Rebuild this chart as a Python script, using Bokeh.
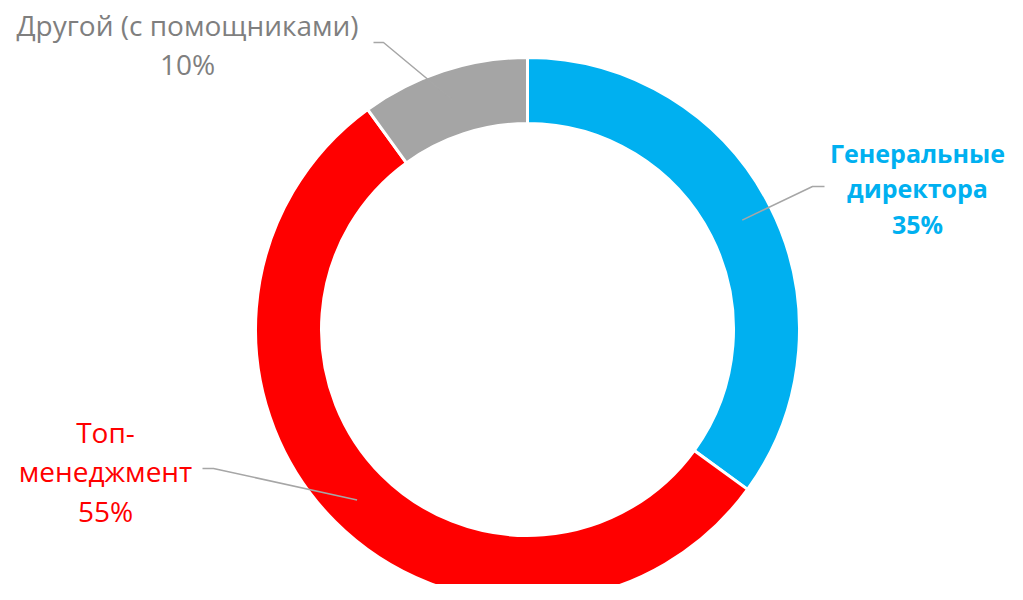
import math
from bokeh.plotting import figure
from bokeh.models import Range1d, ColumnDataSource
from bokeh.core.properties import value
from bokeh.embed import file_html
from bokeh.resources import INLINE

# ---- data ----
categories = ["Генеральные\nдиректора", "Топ-\nменеджмент", "Другой (с помощниками)"]
values = [35, 55, 10]
colors = ["#00B0F0", "#FF0000", "#A5A5A5"]
label_colors = ["#00B0F0", "#FF0000", "#7F7F7F"]
label_styles = ["bold", "normal", "normal"]
label_sizes = ["25px", "28px", "28px"]

# ---- layout (reference pixel space, y measured upward) ----
W, H = 1007, 584
cx, cy = 527, 600 - 329
r_in, r_out = 206, 272
label_x = [917, 105, 187]
label_y = [600 - 188, 600 - 471, 600 - 44]
elbow = [(812, 600 - 186), (213, 600 - 468), (383, 600 - 42)]
tail = [(824, 600 - 186), (202, 600 - 468), (373, 600 - 42)]

total = float(sum(values))
starts, ends, mids = [], [], []
cum = 0.0
for v in values:
    a0 = math.pi / 2 - (cum + v) / total * 2 * math.pi
    a1 = math.pi / 2 - cum / total * 2 * math.pi
    starts.append(a0)
    ends.append(a1)
    mids.append(math.pi / 2 - (cum + v / 2) / total * 2 * math.pi)
    cum += v

p = figure(width=W, height=H, output_backend="svg", toolbar_location=None,
           x_range=Range1d(0, W), y_range=Range1d(600 - H, 600),
           min_border=0, outline_line_color=None)
p.axis.visible = False
p.grid.visible = False
p.background_fill_color = "white"
p.border_fill_color = "white"

src = ColumnDataSource(dict(start=starts, end=ends, color=colors))
p.annular_wedge(x=cx, y=cy, inner_radius=r_in, outer_radius=r_out,
                start_angle="start", end_angle="end", fill_color="color",
                line_color="white", line_width=3, source=src)

r_mid = (r_in + r_out) / 2 + 2
for m, e, t in zip(mids, elbow, tail):
    ax = cx + r_mid * math.cos(m)
    ay = cy + r_mid * math.sin(m)
    p.line([ax, e[0], t[0]], [ay, e[1], t[1]], line_color="#A6A6A6", line_width=1.5)

labels = [f"{c}\n{v}%" for c, v in zip(categories, values)]
lsrc = ColumnDataSource(dict(x=label_x, y=label_y, text=labels,
                             color=label_colors, style=label_styles, size=label_sizes))
p.text(x="x", y="y", text="text", source=lsrc, text_align="center",
       text_baseline="middle", text_color="color", text_font_style="style",
       text_font=value("Open Sans"), text_font_size="size", text_line_height=1.05)

open("out.html", "w").write(file_html(p, INLINE))
